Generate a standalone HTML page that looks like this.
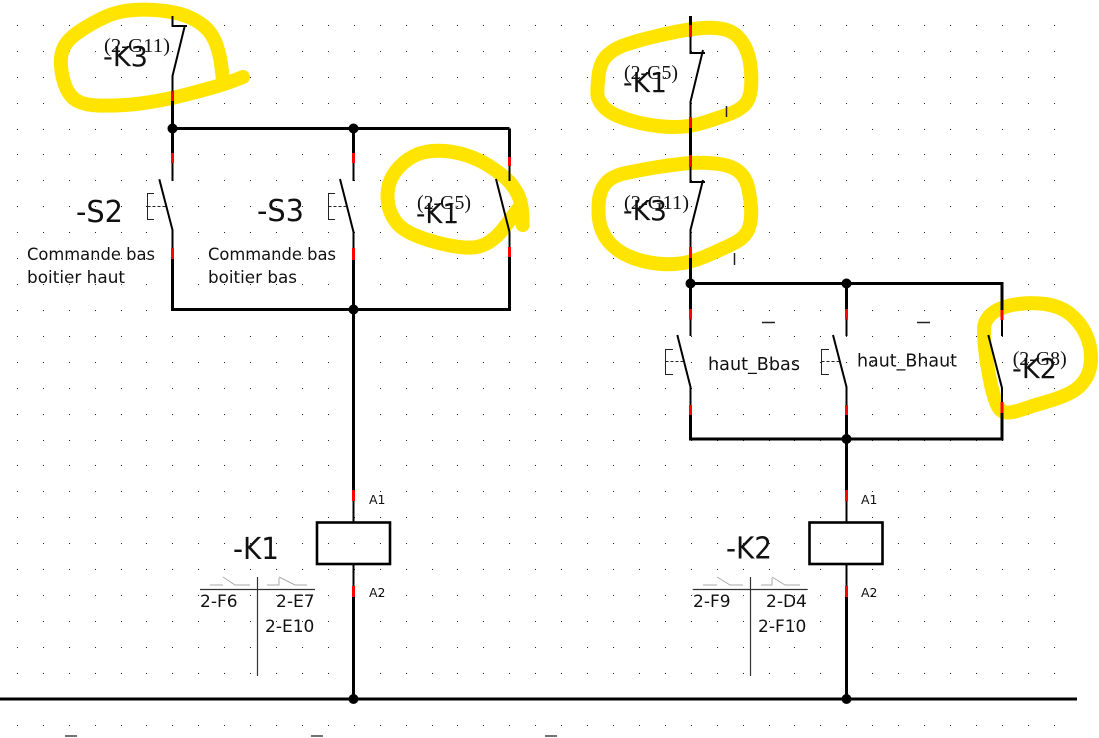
<!DOCTYPE html>
<html><head><meta charset="utf-8">
<style>
html,body{margin:0;padding:0;background:#fff;width:1099px;height:738px;overflow:hidden}
svg{display:block}
.dv{font-family:"DejaVu Sans","Liberation Sans",sans-serif;fill:#111}
.sf{font-family:"Liberation Serif",serif;fill:#111}
</style></head><body>
<svg width="1099" height="738" viewBox="0 0 1099 738" xmlns="http://www.w3.org/2000/svg">
<defs>
<path id="r" stroke="#222" stroke-width="1" d="M17 .5h1M43 .5h1M69 .5h1M95 .5h1M121 .5h1M146 .5h1M172 .5h1M198 .5h1M224 .5h1M250 .5h1M276 .5h1M302 .5h1M328 .5h1M354 .5h1M380 .5h1M406 .5h1M432 .5h1M457 .5h1M483 .5h1M509 .5h1M535 .5h1M561 .5h1M587 .5h1M613 .5h1M639 .5h1M665 .5h1M691 .5h1M717 .5h1M743 .5h1M769 .5h1M794 .5h1M820 .5h1M846 .5h1M872 .5h1M898 .5h1M924 .5h1M950 .5h1M976 .5h1M1002 .5h1M1028 .5h1M1054 .5h1"/>
</defs>
<rect width="1099" height="738" fill="#fff"/>
<g>
<use href="#r" y="25"/><use href="#r" y="51"/><use href="#r" y="77"/><use href="#r" y="103"/>
<use href="#r" y="129"/><use href="#r" y="154"/><use href="#r" y="180"/><use href="#r" y="206"/>
<use href="#r" y="232"/><use href="#r" y="258"/><use href="#r" y="284"/><use href="#r" y="310"/>
<use href="#r" y="336"/><use href="#r" y="362"/><use href="#r" y="388"/><use href="#r" y="414"/>
<use href="#r" y="440"/><use href="#r" y="465"/><use href="#r" y="491"/><use href="#r" y="517"/>
<use href="#r" y="543"/><use href="#r" y="569"/><use href="#r" y="595"/><use href="#r" y="621"/>
<use href="#r" y="647"/><use href="#r" y="673"/><use href="#r" y="699"/><use href="#r" y="725"/>
</g>

<!-- yellow highlights -->
<g fill="none" stroke="#FFE400" stroke-width="14" stroke-linecap="round" stroke-linejoin="round">
<path d="M243 77 L234 80.5 Q225 84 212.5 87.5 Q200 91 186.5 94.5 Q173 98 156.5 101 Q140 104 125 105 Q110 106 97.5 105.5 Q85 105 77.5 101 Q70 97 66 87.5 Q62 78 61 66.5 Q60 55 64 47 Q68 39 80 31 Q92 23 105 17 Q118 11 134 10 Q150 9 165 11 Q180 13 190 17.5 Q200 22 206.5 28.5 Q213 35 216.5 45 Q220 55 221.5 67.5 Q223 80 223 80"/>
<path d="M522.7 225 L522.2 213.5 Q521.7 202 517.35 193.5 Q513 185 506.5 179 Q500 173 490 166.5 Q480 160 468.5 156 Q457 152 445 151 Q433 150 423 152.5 Q413 155 404 162.5 Q395 170 391 179 Q387 188 387.5 198 Q388 208 392.5 216.5 Q397 225 405 230 Q413 235 425 239 Q437 243 450 245.5 Q463 248 472.5 247.5 Q482 247 490 241.5 Q498 236 504 228 Q510 220 517 210"/>
<path d="M597.5 95 Q597 90 598.5 76 Q600 62 607.5 55 Q615 48 627.5 44 Q640 40 652.5 37 Q665 34 677.5 31.5 Q690 29 702.5 28 Q715 27 725 29.5 Q735 32 741.5 41 Q748 50 750 62.5 Q752 75 751 87.5 Q750 100 744 105.5 Q738 111 728 114.5 Q718 118 704 122.5 Q690 127 675 127 Q660 127 645 124 Q630 121 619 116.5 Q608 112 603 106 Q598 100 597.5 95 Z"/>
<path d="M599 219 Q598 210 599 200 Q600 190 606 183 Q612 176 626 173 Q640 170 655 167.5 Q670 165 685 163.5 Q700 162 715 163.5 Q730 165 737.5 170.5 Q745 176 747.5 185.5 Q750 195 751 207.5 Q752 220 748.5 229 Q745 238 732.5 244 Q720 250 705 256.5 Q690 263 675 264 Q660 265 645 261.5 Q630 258 620 251.5 Q610 245 605 236.5 Q600 228 599 219 Z"/>
<path d="M984 330 Q984 320 992 313.5 Q1000 307 1015 304.5 Q1030 302 1045 304 Q1060 306 1070 314 Q1080 322 1085.5 333.5 Q1091 345 1091 357.5 Q1091 370 1085.5 379 Q1080 388 1070 393 Q1060 398 1047.5 401.5 Q1035 405 1023.5 409 Q1012 413 1006 412.5 Q1000 412 996.5 403.5 Q993 395 990 380 Q987 365 985.5 352.5 Q984 340 984 330 Z"/>
</g>

<!-- wires (3px) -->
<g stroke="#000" stroke-width="3" fill="none">
<path d="M172.5 101V128.5H509.5"/>
<path d="M172.5 128.5V153M172.5 259V309.5H509.5V257M509.5 128.5V157"/>
<path d="M353.5 128.5V153M353.5 260V490M353.5 597V699"/>
<path d="M0 699H1077"/>
<path d="M690.5 16V25M690.5 128V155M690.5 258V283.5H1002V310M1002 413V439H690.5V415M690.5 283.5V309"/>
<path d="M846.5 283.5V309M846.5 415V490M846.5 597V699"/>
</g>
<!-- terminal stubs / contacts (2px) -->
<g stroke="#000" stroke-width="2" fill="none">
<path d="M172.5 16V26H187M184.5 27L172.5 76V91"/>
<path d="M172.5 163V181M159.3 179.3L172.5 230V248"/>
<path d="M353.5 163V181M340 179L353.5 232V248"/>
<path d="M509.5 166V181M496 179L509.5 232V247"/>
<path d="M353.5 501V522M353.5 564V586"/>
<rect x="317" y="522.5" width="73" height="41.5" stroke-width="2.6"/>
<path d="M690.5 37V53H705M703 50L690.5 101.7V117"/>
<path d="M690.5 167V182H705M703 180L690.5 230V247"/>
<path d="M690.5 319.5V336M677.3 335L690.5 387V405"/>
<path d="M846.5 319.5V336M833 335L846.5 387V405"/>
<path d="M1002 320V336M988.3 335L1002 388V402"/>
<path d="M846.5 501V522M846.5 564V586"/>
<rect x="809.5" y="522.5" width="73" height="41.5" stroke-width="2.6"/>
</g>
<!-- actuators -->
<g stroke="#222" stroke-width="1" fill="none">
<path d="M154 193.5H147.5V219.5H154"/><path d="M147.5 206.5H166" stroke-dasharray="3,2"/>
<path d="M335 193.5H328.5V219.5H335"/><path d="M328.5 206.5H347" stroke-dasharray="3,2"/>
<path d="M673 349.5H665.5V374.5H673"/><path d="M665.5 361.5H683" stroke-dasharray="3,2"/>
<path d="M829 349.5H821.5V374.5H829"/><path d="M821.5 361.5H839" stroke-dasharray="3,2"/>
</g>
<!-- red terminals -->
<g stroke="#ff0000" stroke-width="3" fill="none">
<path d="M172.5 91V101M172.5 153V163M172.5 248V259"/>
<path d="M353.5 153V163M353.5 248V260M353.5 490V501M353.5 586V597"/>
<path d="M509.5 157V166M509.5 247V257"/>
<path d="M690.5 25V37M690.5 117V128M690.5 155V167M690.5 247V258"/>
<path d="M690.5 309V319.5M690.5 405V415M846.5 309V319.5M846.5 405V415"/>
<path d="M1002 310V320M1002 402V413"/>
<path d="M846.5 490V501M846.5 586V597"/>
</g>
<!-- junction dots -->
<g fill="#000">
<circle cx="172.5" cy="128.5" r="5"/><circle cx="353.5" cy="128.5" r="5"/>
<circle cx="353.5" cy="309.5" r="5"/><circle cx="353.5" cy="699" r="5"/>
<circle cx="690.5" cy="283.5" r="5"/><circle cx="846.5" cy="283.5" r="5"/>
<circle cx="846.5" cy="439" r="5"/><circle cx="846.5" cy="699" r="5"/>
</g>

<!-- cross-reference tables -->
<g stroke="#333" stroke-width="1.2" fill="none">
<path d="M200 589.5H315M257.5 577V676"/>
<path d="M692.7 589.5H807.7M750.5 577V676"/>
</g>
<g stroke="#aaa" stroke-width="1" fill="none">
<path d="M210 585H223M223 577L235 585H250"/>
<path d="M267 585H279V578M279 577L295 585H307"/>
<path d="M703 585H717M717 577L730 585H743"/>
<path d="M761 585H772V578M772 577L785 585H800"/>
</g>

<!-- small marks -->
<g stroke="#222" stroke-width="1.5" fill="none">
<path d="M726.5 106V117M734.5 253V265"/>
<path d="M762 322.5H775M917 322.5H930"/>
<path d="M65 736H77M311 736H323M545 736H557" stroke="#444"/>
</g>

<!-- texts -->
<text class="sf" x="104" y="52" font-size="20" textLength="66" lengthAdjust="spacingAndGlyphs">(2-G11)</text>
<text class="dv" x="103" y="66" font-size="28" textLength="45" lengthAdjust="spacingAndGlyphs">-K3</text>

<text class="dv" x="76" y="222" font-size="30" textLength="47" lengthAdjust="spacingAndGlyphs">-S2</text>
<text class="dv" x="257" y="221" font-size="30" textLength="47" lengthAdjust="spacingAndGlyphs">-S3</text>
<text class="dv" x="27" y="260" font-size="17" textLength="128" lengthAdjust="spacingAndGlyphs">Commande bas</text>
<text class="dv" x="27" y="283" font-size="17" textLength="98" lengthAdjust="spacingAndGlyphs">boitier haut</text>
<text class="dv" x="208" y="260" font-size="17" textLength="128" lengthAdjust="spacingAndGlyphs">Commande bas</text>
<text class="dv" x="208" y="283" font-size="17" textLength="89" lengthAdjust="spacingAndGlyphs">boitier bas</text>

<text class="sf" x="417" y="209" font-size="20" textLength="54" lengthAdjust="spacingAndGlyphs">(2-G5)</text>
<text class="dv" x="416" y="223" font-size="28" textLength="43" lengthAdjust="spacingAndGlyphs">-K1</text>

<text class="dv" x="369" y="504" font-size="12.5">A1</text>
<text class="dv" x="369" y="597" font-size="12.5">A2</text>
<text class="dv" x="233" y="559" font-size="30" textLength="46" lengthAdjust="spacingAndGlyphs">-K1</text>
<text class="dv" x="200" y="607" font-size="17">2-F6</text>
<text class="dv" x="276" y="607" font-size="17">2-E7</text>
<text class="dv" x="265" y="632" font-size="17">2-E10</text>

<text class="sf" x="624" y="79" font-size="20" textLength="54" lengthAdjust="spacingAndGlyphs">(2-G5)</text>
<text class="dv" x="623" y="92" font-size="28" textLength="44" lengthAdjust="spacingAndGlyphs">-K1</text>
<text class="sf" x="624" y="209" font-size="20" textLength="65" lengthAdjust="spacingAndGlyphs">(2-G11)</text>
<text class="dv" x="623" y="220" font-size="28" textLength="44" lengthAdjust="spacingAndGlyphs">-K3</text>

<text class="dv" x="708" y="370" font-size="18" textLength="92" lengthAdjust="spacingAndGlyphs">haut_Bbas</text>
<text class="dv" x="857" y="366.5" font-size="18" textLength="100" lengthAdjust="spacingAndGlyphs">haut_Bhaut</text>
<text class="sf" x="1012.7" y="365" font-size="20" textLength="54" lengthAdjust="spacingAndGlyphs">(2-G8)</text>
<text class="dv" x="1012" y="378" font-size="28" textLength="45" lengthAdjust="spacingAndGlyphs">-K2</text>

<text class="dv" x="861" y="504" font-size="12.5">A1</text>
<text class="dv" x="861" y="597" font-size="12.5">A2</text>
<text class="dv" x="726" y="558.5" font-size="30" textLength="46" lengthAdjust="spacingAndGlyphs">-K2</text>
<text class="dv" x="693" y="607" font-size="17">2-F9</text>
<text class="dv" x="766" y="607" font-size="17">2-D4</text>
<text class="dv" x="758" y="632" font-size="17">2-F10</text>
</svg>
</body></html>
